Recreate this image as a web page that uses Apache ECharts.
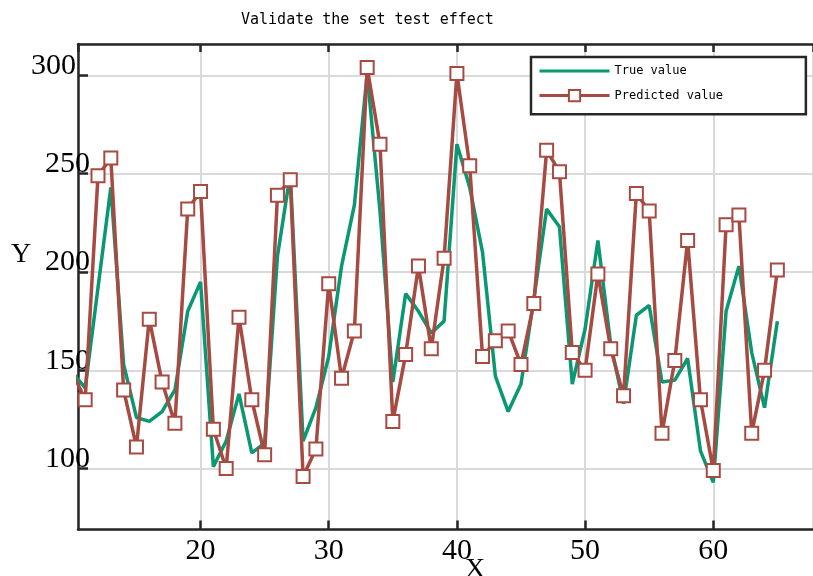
<!DOCTYPE html>
<html>
<head>
    <meta http-equiv="Content-Type" content="text/html; charset=utf-8">
    <title>Validate the set test effect</title>
    <script src="https://cdn.jsdelivr.net/npm/echarts@6.0.0/dist/echarts.min.js"></script>
    <style>
        html, body { margin: 0; padding: 0; background: #fff; }
        #main { width: 813px; height: 576px; }
    </style>
</head>
<body>
    <div id="main"></div>
    <script type="text/javascript">
        // sample index
        var xs = [10, 11, 12, 13, 14, 15, 16, 17, 18, 19, 20, 21, 22, 23, 24, 25, 26, 27, 28, 29,
            30, 31, 32, 33, 34, 35, 36, 37, 38, 39, 40, 41, 42, 43, 44, 45, 46, 47, 48, 49,
            50, 51, 52, 53, 54, 55, 56, 57, 58, 59, 60, 61, 62, 63, 64, 65];
        var trueValue = [149, 141, 192, 243, 153, 126, 124, 129, 140, 180, 195, 101, 114, 138, 108, 113, 208, 250, 114, 131,
            157, 203, 234, 301, 231, 144, 189, 180, 169, 175, 265, 243, 210, 147, 129, 143, 186, 232, 223, 143,
            171, 216, 163, 133, 178, 183, 144, 145, 156, 109, 93, 180, 203, 159, 131, 175];
        var predictedValue = [149, 135, 249, 258, 140, 111, 176, 144, 123, 232, 241, 120, 100, 177, 135, 107, 239, 247, 96, 110,
            194, 146, 170, 304, 265, 124, 158, 203, 161, 207, 301, 254, 157, 165, 170, 153, 184, 262, 251, 159,
            150, 199, 161, 137, 240, 231, 118, 155, 216, 135, 99, 224, 229, 118, 150, 201];

        function pairs(ys) {
            return xs.map(function (x, i) { return [x, ys[i]]; });
        }

        var axisColor = '#262626';
        var green = '#0a9873';
        var red = '#a64a42';
        var serif = '"Liberation Serif", "Times New Roman", serif';
        var mono = '"DejaVu Sans Mono", monospace';

        var chart = echarts.init(document.getElementById('main'));
        var option = {
            backgroundColor: '#fff',
            animation: false,
            title: {
                text: 'Validate the set test effect',
                left: 236,
                top: 8,
                textStyle: { fontFamily: mono, fontSize: 15, fontWeight: 'normal', color: '#000' }
            },
            legend: {
                orient: 'vertical',
                left: 531,
                top: 57,
                padding: [8, 83, 12, 7],
                itemWidth: 70,
                itemHeight: 14,
                itemGap: 12,
                backgroundColor: '#fff',
                borderColor: axisColor,
                borderWidth: 2.5,
                lineStyle: { width: 3 },
                textStyle: { fontFamily: mono, fontSize: 12, color: '#000', padding: [0, 0, 5, 0] },
                data: [
                    { name: 'True value', itemStyle: { color: 'rgba(0,0,0,0)', borderWidth: 0 } },
                    { name: 'Predicted value' }
                ]
            },
            grid: { left: 78, right: -1, top: 44, bottom: 46.5, containLabel: false },
            xAxis: [{
                type: 'value',
                min: 10.44,
                max: 67.78,
                axisLine: { show: true, lineStyle: { color: axisColor, width: 2.5 } },
                axisTick: { show: true, inside: true, length: 9, lineStyle: { color: axisColor, width: 2.5 } },
                axisLabel: {
                    showMinLabel: false, showMaxLabel: false, margin: 7,
                    fontFamily: serif, fontSize: 30, color: '#000'
                },
                splitLine: { show: true, lineStyle: { color: '#dadada', width: 2 } }
            }, {
                type: 'value',
                position: 'top',
                min: 10.44,
                max: 67.78,
                axisLine: { show: true, lineStyle: { color: axisColor, width: 2.5 } },
                axisTick: { show: true, inside: true, length: 8, lineStyle: { color: axisColor, width: 2.5 } },
                axisLabel: { show: false },
                splitLine: { show: false }
            }],
            yAxis: {
                type: 'value',
                min: 69,
                max: 316,
                axisLine: { show: true, lineStyle: { color: axisColor, width: 2.5 } },
                axisTick: { show: true, inside: true, length: 10, lineStyle: { color: axisColor, width: 2.5 } },
                axisLabel: {
                    showMinLabel: false, showMaxLabel: false, margin: -12,
                    fontFamily: serif, fontSize: 30, color: '#000',
                    verticalAlign: 'middle', padding: [0, 0, 19, 0],
                    formatter: function (v) { return v === 300 ? '{a|300}' : '' + v; },
                    rich: { a: { fontFamily: serif, fontSize: 30, color: '#000', padding: [0, 14, 0, 0] } }
                },
                splitLine: { show: true, lineStyle: { color: '#dadada', width: 2 } }
            },
            graphic: [
                { type: 'text', left: 11, top: 241, style: { text: 'Y', font: '28px ' + serif, fill: '#000' } },
                { type: 'text', left: 465, top: 556, style: { text: 'X', font: '28px ' + serif, fill: '#000' } }
            ],
            series: [{
                name: 'True value',
                type: 'line',
                data: pairs(trueValue),
                symbol: 'none',
                clip: true,
                lineStyle: { color: green, width: 3.5 },
                itemStyle: { color: green },
                z: 2
            }, {
                name: 'Predicted value',
                type: 'line',
                data: pairs(predictedValue),
                symbol: 'emptyRect',
                symbolSize: 13,
                showAllSymbol: true,
                clip: true,
                lineStyle: { color: red, width: 3.5 },
                itemStyle: { color: red, borderColor: red, borderWidth: 3 },
                z: 3
            }]
        };
        chart.setOption(option);
    </script>
</body>
</html>
